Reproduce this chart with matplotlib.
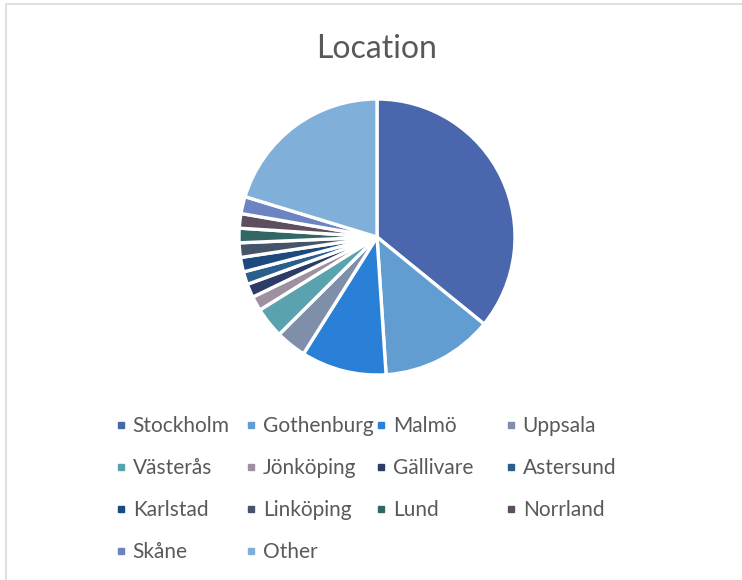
import matplotlib.pyplot as plt
from matplotlib.lines import Line2D
from matplotlib.patches import Rectangle

plt.rcParams['font.family'] = ['Lato', 'DejaVu Sans']

locations = ['Stockholm', 'Gothenburg', 'Malmö', 'Uppsala',
             'Västerås', 'Jönköping', 'Gällivare', 'Astersund',
             'Karlstad', 'Linköping', 'Lund', 'Norrland',
             'Skåne', 'Other']
shares = [35.9, 13.1, 10.0, 3.6,
          3.6, 1.7, 1.6, 1.5,
          1.7, 1.7, 1.7, 1.7,
          2.0, 20.3]
colors = ['#4a66ac', '#629dd1', '#2a7fd6', '#7f8fa9',
          '#5aa2ae', '#9d90a0', '#2c3c66', '#2a5e8c',
          '#1d4a7e', '#465469', '#336767', '#5d4f5f',
          '#6c84c2', '#80afd9']

W, H = 742, 580
fig = plt.figure(figsize=(W / 100, H / 100), dpi=100)

# chart frame (only top and left edges visible in the crop)
fig.patches.append(Rectangle((6 / W, -0.1), 1.0, 1 - 4 / H + 0.1,
                             transform=fig.transFigure, fill=False,
                             edgecolor='#d9d9d9', linewidth=1.2))

# pie centred at (377, 237) px, radius 138 px
cx, cy, r = 377, 237, 138
ax = fig.add_axes([(cx - r) / W, (H - cy - r) / H, 2 * r / W, 2 * r / H])
ax.pie(shares, colors=colors, startangle=90, counterclock=False, radius=1,
       wedgeprops=dict(edgecolor='white', linewidth=2.4))
ax.set_xlim(-1, 1)
ax.set_ylim(-1, 1)
ax.set_aspect('equal')
ax.axis('off')

fig.text(cx / W, 1 - 49 / H, 'Location', ha='center', va='center',
         fontsize=23, color='#595959')

# legend: 4 equal-width columns, row-major order like Excel
fs = 15
col_x = [116, 246, 376, 506]
for k in range(4):
    labs = locations[k::4]
    cols = colors[k::4]
    handles = [Line2D([], [], marker='s', linestyle='', color=c, markersize=5)
               for c in cols]
    fig.legend(handles, labs, loc='upper left',
               bbox_to_anchor=(col_x[k] / W, 1 - 416 / H),
               frameon=False, fontsize=fs, handlelength=0.5,
               handletextpad=0.3, labelspacing=1.06, borderpad=0,
               borderaxespad=0, labelcolor='#595959')

fig.savefig('out.png', dpi=100)
